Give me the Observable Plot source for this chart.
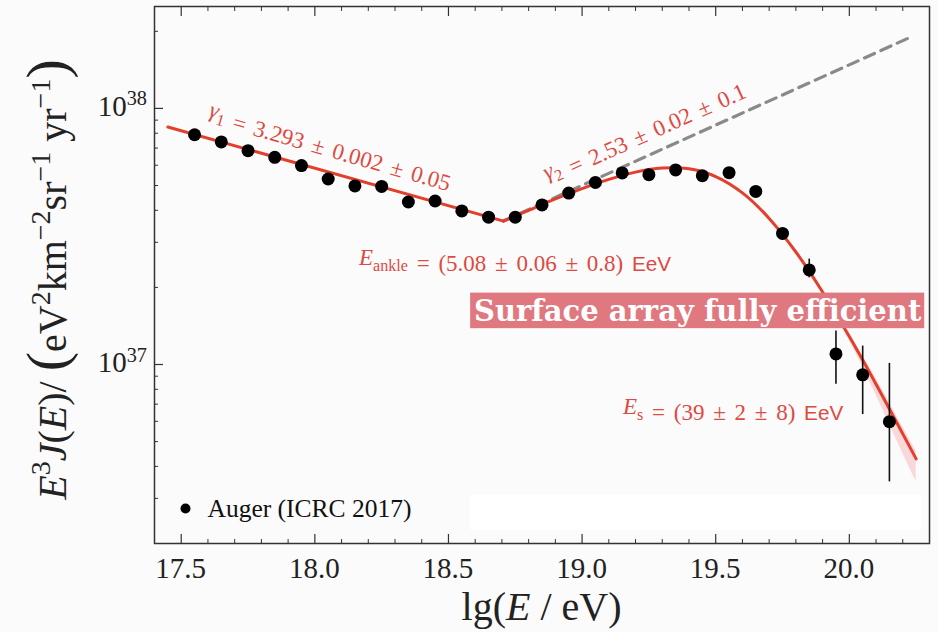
<!DOCTYPE html>
<html>
<head>
<meta charset="utf-8">
<script src="https://cdn.jsdelivr.net/npm/d3@7"></script>
<script src="https://cdn.jsdelivr.net/npm/@observablehq/plot@0.6"></script>
<style>
  html, body { margin: 0; padding: 0; background: #fbfbfb; }
  #chart svg { display: block; }
</style>
</head>
<body>
<div id="chart"></div>
<script>
// Auger (ICRC 2017) combined spectrum, E^3 J(E) in eV^2 km^-2 sr^-1 yr^-1
const lgE = [17.55, 17.65, 17.75, 17.85, 17.95, 18.05, 18.15, 18.25, 18.35, 18.45,
             18.55, 18.65, 18.75, 18.85, 18.95, 19.05, 19.15, 19.25, 19.35, 19.45,
             19.55, 19.65, 19.75, 19.85, 19.95, 20.05, 20.15];
const flux = [7.89e37, 7.40e37, 6.84e37, 6.44e37, 5.98e37, 5.30e37, 4.98e37, 4.96e37, 4.31e37, 4.35e37,
              3.98e37, 3.76e37, 3.76e37, 4.20e37, 4.67e37, 5.14e37, 5.60e37, 5.51e37, 5.75e37, 5.46e37,
              5.61e37, 4.74e37, 3.25e37, 2.34e37, 1.10e37, 9.11e36, 5.98e36];

// statistical error bars (only those larger than the markers)
const errLgE = [19.75, 19.85, 19.95, 20.05, 20.15];
const errLo  = [3.06e37, 2.18e37, 8.37e36, 6.38e36, 3.48e36];
const errHi  = [3.38e37, 2.58e37, 1.35e37, 1.18e37, 1.01e37];

// fitted spectrum: power law below the ankle ...
const fitLowLgE = [17.45, 18.706];
const fitLowY   = [8.46e37, 3.63e37];
// ... and the suppressed power law above it
const fitHighLgE = [18.706, 18.8, 18.9, 19.0, 19.1, 19.2, 19.3, 19.4, 19.5, 19.6,
                    19.7, 19.8, 19.9, 20.0, 20.1, 20.2, 20.25];
const fitHighY   = [3.63e37, 4.00e37, 4.43e37, 4.86e37, 5.28e37, 5.64e37, 5.85e37, 5.81e37, 5.42e37, 4.68e37,
                    3.72e37, 2.75e37, 1.92e37, 1.285e37, 8.38e36, 5.36e36, 4.28e36];

// fit uncertainty band at the highest energies
const bandLgE = [19.8, 19.9, 20.0, 20.1, 20.2, 20.25];
const bandLo  = [2.72e37, 1.88e37, 1.24e37, 7.6e36, 4.5e36, 3.5e36];
const bandHi  = [2.78e37, 1.96e37, 1.32e37, 8.8e36, 5.7e36, 4.6e36];

// gamma_2 power law continued without suppression
const extLgE = [18.706, 20.24];
const extY   = [3.64e37, 1.92e38];

// axis ticks
const xTicks = [17.5, 18.0, 18.5, 19.0, 19.5, 20.0];
const xMinor = [17.4, 17.6, 17.7, 17.8, 17.9, 18.1, 18.2, 18.3, 18.4, 18.6, 18.7, 18.8, 18.9,
                19.1, 19.2, 19.3, 19.4, 19.6, 19.7, 19.8, 19.9, 20.1, 20.2];
const yTicks = [1e37, 1e38];
const yTickExp = ["37", "38"];
const yMinor = [2e36, 3e36, 4e36, 5e36, 6e36, 7e36, 8e36, 9e36,
                2e37, 3e37, 4e37, 5e37, 6e37, 7e37, 8e37, 9e37, 2e38];

const points = lgE.map((x, i) => ({x, y: flux[i]}));
const errs = errLgE.map((x, i) => ({x, lo: errLo[i], hi: errHi[i]}));
const fitLow = fitLowLgE.map((x, i) => ({x, y: fitLowY[i]}));
const fitHigh = fitHighLgE.map((x, i) => ({x, y: fitHighY[i]}));
const band = bandLgE.map((x, i) => ({x, lo: bandLo[i], hi: bandHi[i]}));
const ext = extLgE.map((x, i) => ({x, y: extY[i]}));

const W = 938, H = 632;
const mL = 154, mR = 9, mT = 6, mB = 89;
const plotW = W - mL - mR, plotH = H - mT - mB;

const RED = "#e23f2c";
const LABEL_RED = "#dc4a42";
const serif = "'Liberation Serif', 'Times New Roman', serif";
const sans = "'Liberation Sans', Arial, sans-serif";

const chart = Plot.plot({
  width: W, height: H,
  marginLeft: mL, marginRight: mR, marginTop: mT, marginBottom: mB,
  style: {background: "transparent", fontFamily: serif},
  x: {domain: [17.4, 20.3], axis: null},
  y: {type: "log", domain: [2e36, 2.5e38], axis: null},
  marks: [
    // white panel behind the lower right corner
    Plot.rect({length: 1}, {x1: 18.583, x2: 20.27, y1: 2.25e36, y2: 3.09e36, fill: "#ffffff"}),
    Plot.areaY(band, {x: "x", y1: "lo", y2: "hi", fill: "#f07c7c", fillOpacity: 0.28, curve: "natural"}),
    Plot.line(ext, {x: "x", y: "y", stroke: "#8a8a8a", strokeWidth: 3.2, strokeDasharray: "11,7"}),
    Plot.line(fitLow, {x: "x", y: "y", stroke: RED, strokeWidth: 3}),
    Plot.line(fitHigh, {x: "x", y: "y", stroke: RED, strokeWidth: 3, curve: "catmull-rom"}),
    Plot.ruleX(errs, {x: "x", y1: "lo", y2: "hi", stroke: "#111", strokeWidth: 1.6}),
    Plot.dot(points, {x: "x", y: "y", r: 6.5, fill: "#000", stroke: null}),
    // inward ticks: bottom, top, left
    Plot.ruleX(xTicks, {x: d => d, insetTop: plotH - 9, stroke: "#333", strokeWidth: 1.2}),
    Plot.ruleX(xMinor, {x: d => d, insetTop: plotH - 4, stroke: "#333", strokeWidth: 1}),
    Plot.ruleX(xTicks, {x: d => d, insetBottom: plotH - 10, stroke: "#333", strokeWidth: 1.2}),
    Plot.ruleX(xMinor, {x: d => d, insetBottom: plotH - 5, stroke: "#333", strokeWidth: 1}),
    Plot.ruleY(yTicks, {y: d => d, insetRight: plotW - 9, stroke: "#333", strokeWidth: 1.2}),
    Plot.ruleY(yMinor, {y: d => d, insetRight: plotW - 4, stroke: "#333", strokeWidth: 1}),
    // "Surface array fully efficient" banner
    Plot.rect({length: 1}, {x1: 18.583, x2: 20.282, y1: 1.38e37, y2: 1.90e37, fill: "#e07880"}),
    Plot.text(["Surface array fully efficient"], {
      x: (18.583 + 20.282) / 2, y: 1.61e37, text: d => d,
      fill: "#ffffff", fontFamily: "'DejaVu Serif', serif", fontWeight: "bold", fontSize: 29,
      textAnchor: "middle", lineAnchor: "middle"
    }),
    // legend
    Plot.dot(["Auger (ICRC 2017)"], {frameAnchor: "bottom-left", dx: 31, dy: -35, r: 5, fill: "#000"}),
    Plot.text(["Auger (ICRC 2017)"], {
      frameAnchor: "bottom-left", dx: 53, dy: -35, text: d => d,
      fill: "#111", fontFamily: serif, fontSize: 25.5, textAnchor: "start", lineAnchor: "middle"
    }),
    Plot.frame({stroke: "#333", strokeWidth: 1.5})
  ]
});

document.getElementById("chart").appendChild(chart);

const sx = chart.scale("x"), sy = chart.scale("y");
const X = v => sx.apply(v), Y = v => sy.apply(v);
const svg = d3.select(chart);

// rich text helper: parts = [text, {i: italic, s: baseline shift (em), f: size factor, sans}]
function rich(sel, parts, base) {
  let cur = 0;
  for (const [txt, o = {}] of parts) {
    const shift = (o.s || 0) * base;
    const ts = sel.append("tspan").text(txt).attr("dy", shift - cur);
    cur = shift;
    if (o.i) ts.style("font-style", "italic");
    if (o.f) ts.style("font-size", `${base * o.f}px`);
    if (o.sans) ts.style("font-family", sans);
  }
  return sel;
}

function label(parent, size) {
  return parent.append("text")
    .style("font-family", serif)
    .style("font-size", `${size}px`);
}

// x tick labels
const yBottom = Y(2e36);
xTicks.forEach(v => {
  label(svg, 29)
    .attr("x", X(v)).attr("y", yBottom + 35)
    .attr("text-anchor", "middle").attr("fill", "#222")
    .text(v.toFixed(1));
});

// y tick labels 10^n
yTicks.forEach((v, i) => {
  const t = label(svg, 29)
    .attr("x", mL - 7).attr("y", Y(v) + 8)
    .attr("text-anchor", "end").attr("fill", "#222");
  rich(t, [["10"], [yTickExp[i], {s: -0.36, f: 0.7}]], 29);
});

// x axis title
const xt = label(svg, 40)
  .attr("x", X(18.85)).attr("y", H - 12)
  .attr("text-anchor", "middle").attr("fill", "#222");
rich(xt, [["lg("], ["E", {i: true}], [" / eV)"]], 40);

// y axis title
const yt = label(svg, 40)
  .attr("transform", `translate(66,${(mT + H - mB) / 2 + 5}) rotate(-90)`)
  .attr("text-anchor", "middle").attr("fill", "#222");
rich(yt, [
  ["E", {i: true}], ["3", {s: -0.4, f: 0.7}], ["J", {i: true}], ["("], ["E", {i: true}], [")"],
  ["/ "], ["(", {f: 1.45}], ["eV"], ["2", {s: -0.4, f: 0.7}], ["km"], ["−2", {s: -0.4, f: 0.7}],
  ["sr"], ["−1", {s: -0.4, f: 0.7}], [" yr"], ["−1", {s: -0.4, f: 0.7}], [")", {f: 1.45}]
], 40);

// fit parameter annotations
function note(x, y, angle, size, parts) {
  const g = svg.append("g").attr("transform", `translate(${X(x)},${Y(y)}) rotate(${angle})`);
  const t = label(g, size)
    .attr("y", size * 0.33)
    .attr("text-anchor", "middle")
    .attr("word-spacing", 3)
    .attr("fill", LABEL_RED);
  rich(t, parts, size);
}
note(18.062, 7.25e37, 16, 23, [["γ", {i: true}], ["1", {s: 0.25, f: 0.7}], ["", {s: 0}], [" = 3.293 ± 0.002 ± 0.05"]]);
note(19.23, 8.28e37, -24, 23, [["γ", {i: true}], ["2", {s: 0.25, f: 0.7}], ["", {s: 0}], [" = 2.53 ± 0.02 ± 0.1"]]);
note(18.751, 2.61e37, 0, 23, [["E", {i: true}], ["ankle", {s: 0.25, f: 0.7}], ["", {s: 0}], [" = (5.08 ± 0.06 ± 0.8) "], ["EeV", {sans: true, f: 0.9}]]);
note(19.567, 6.84e36, 0, 23, [["E", {i: true}], ["s", {s: 0.25, f: 0.7}], ["", {s: 0}], [" = (39 ± 2 ± 8) "], ["EeV", {sans: true, f: 0.9}]]);
</script>
</body>
</html>
